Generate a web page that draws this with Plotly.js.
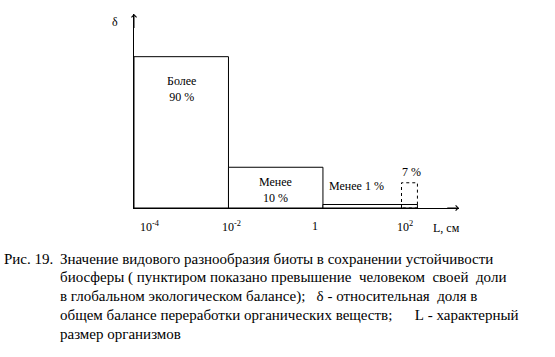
<!DOCTYPE html>
<html>
<head>
<meta charset="utf-8">
<script src="https://cdn.plot.ly/plotly-3.0.1.min.js"></script>
<style>html,body{margin:0;padding:0;background:#fff;}#chart{width:555px;height:357px;}</style>
</head>
<body>
<div id="chart"></div>
<script>
// ---- data ----
const edges = [1e-4, 1e-2, 1, 1e2];                 // L, см : bar boundaries
const categories = ['Более<br>90 %', 'Менее<br>10 %', 'Менее 1 %'];
const heights = [0.78, 0.21, 0.018];                // δ (relative share, as drawn)
const excessEdges = [46, 100];                      // dashed excess box
const excessHeight = 0.13;
const excessLabel = '7 %';
const tickLabels = ['10<sup>-4</sup>', '10<sup>-2</sup>', '1', '10<sup>2</sup>'];
const yAxisLabel = 'δ';
const xAxisLabel = 'L, см';
const captionHead = 'Рис. 19.';
const captionLines = [
  'Значение видового разнообразия биоты в сохранении устойчивости',
  'биосферы ( пунктиром показано превышение  человеком  своей  доли',
  'в глобальном экологическом балансе);   δ - относительная  доля в',
  'общем балансе переработки органических веществ;      L - характерный',
  'размер организмов'
];

// ---- layout helpers ----
const FONT = "'Liberation Serif', 'Times New Roman', serif";
const L = 134, R = 459, T = 14, B = 208;
const px = x => (x - L) / (R - L);
const py = y => (B - y) / (B - T);
const lg = Math.log10;

const traces = [];
for (let i = 0; i < heights.length; i++) {
  const x0 = edges[i], x1 = edges[i + 1], h = heights[i];
  traces.push({
    type: 'scatter', mode: 'lines', fill: 'toself', fillcolor: '#fff',
    x: [x0, x0, x1, x1, x0], y: [0, h, h, 0, 0],
    line: {color: '#000', width: 1}, hoverinfo: 'skip', showlegend: false
  });
}
traces.push({
  type: 'scatter', mode: 'lines',
  x: [excessEdges[0], excessEdges[0], excessEdges[1], excessEdges[1], excessEdges[0]],
  y: [0, excessHeight, excessHeight, 0, 0],
  line: {color: '#000', width: 1, dash: 'dot'}, hoverinfo: 'skip', showlegend: false
});

const f = (s) => ({family: FONT, size: s, color: '#000'});
const ann = [];
// axis arrows
ann.push({x: 2.88, y: 0, ax: 2.6, ay: 0, xref: 'x', yref: 'y', axref: 'x', ayref: 'y',
  showarrow: true, arrowhead: 4, arrowsize: 1, arrowwidth: 1, arrowcolor: '#000', text: ''});
ann.push({x: -4, y: 1, ax: -4, ay: 0.92, xref: 'x', yref: 'y', axref: 'x', ayref: 'y',
  showarrow: true, arrowhead: 4, arrowsize: 1, arrowwidth: 1, arrowcolor: '#000', text: ''});
// bar labels
const barLabelY = [0.613, 0.095, 0.113];
const barLabelShift = [0, 0, -14];
categories.forEach((c, i) => {
  ann.push({x: (lg(edges[i]) + lg(edges[i + 1])) / 2, y: barLabelY[i], xref: 'x', yref: 'y',
    xanchor: 'center', yanchor: 'middle',
    text: c, showarrow: false, xshift: barLabelShift[i], font: f(12)});
});
ann.push({x: (lg(excessEdges[0]) + lg(excessEdges[1])) / 2, y: excessHeight, xref: 'x', yref: 'y',
  xanchor: 'center', yanchor: 'middle',
  text: excessLabel, showarrow: false, yshift: 11, xshift: 2, font: f(12)});
// tick labels
const tickShift = [10, 3, -8, -12];
tickLabels.forEach((t, i) => {
  ann.push({x: lg(edges[i]), y: py(226), xref: 'x', yref: 'paper', text: t, showarrow: false,
    xanchor: 'center', yanchor: 'middle', xshift: tickShift[i] + (i === 0 ? 6 : 0), font: f(12)});
});
ann.push({x: px(446), y: py(228), xref: 'paper', yref: 'paper', xanchor: 'center', yanchor: 'middle',
  text: xAxisLabel, showarrow: false, font: f(12)});
ann.push({x: px(115), y: py(22), xref: 'paper', yref: 'paper', xanchor: 'center', yanchor: 'middle',
  text: yAxisLabel, showarrow: false, font: f(12)});
// caption
const capTop = 259, capStep = 18.8;
ann.push({x: px(2), y: py(capTop), xref: 'paper', yref: 'paper', xanchor: 'left', yanchor: 'middle',
  text: captionHead, showarrow: false, font: f(15)});
captionLines.forEach((t, i) => {
  ann.push({x: px(58), y: py(capTop + i * capStep), xref: 'paper', yref: 'paper', xanchor: 'left', yanchor: 'middle',
    text: t.replace(/ /g, '&nbsp;'), showarrow: false, font: f(15)});
});

const layout = {
  width: 555, height: 357,
  margin: {l: L, r: 555 - R, t: T, b: 357 - B, pad: 0},
  paper_bgcolor: '#fff', plot_bgcolor: '#fff',
  showlegend: false,
  xaxis: {type: 'log', range: [-4, 2.88], showgrid: false, zeroline: false, showticklabels: false,
    ticks: '', showline: true, linecolor: '#000', linewidth: 1},
  yaxis: {range: [0, 1], showgrid: false, zeroline: false, showticklabels: false,
    ticks: '', showline: true, linecolor: '#000', linewidth: 1},
  annotations: ann
};
Plotly.newPlot('chart', traces, layout, {staticPlot: true});
</script>
</body>
</html>
